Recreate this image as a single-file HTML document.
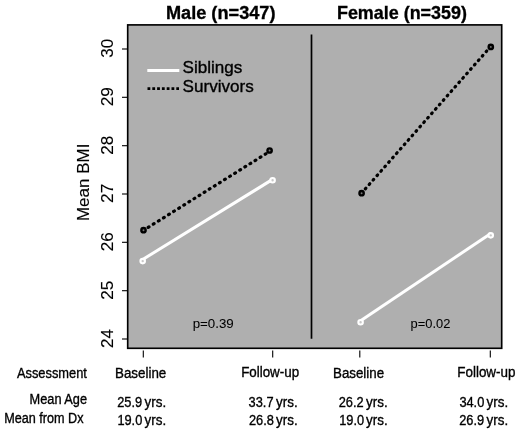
<!DOCTYPE html>
<html><head><meta charset="utf-8">
<style>
html,body{margin:0;padding:0;background:#fff;width:520px;height:431px;overflow:hidden}
svg{display:block;will-change:transform}
text{font-family:"Liberation Sans",sans-serif;fill:#000;stroke:#000;stroke-width:0.35px}
</style></head>
<body>
<svg width="520" height="431" viewBox="0 0 520 431">
<!-- plot box -->
<rect x="127.7" y="24.9" width="374" height="323.4" fill="#afafaf" stroke="#000" stroke-width="1.65"/>
<line x1="311.5" y1="34.5" x2="311.5" y2="338.8" stroke="#000" stroke-width="1.7"/>

<!-- y ticks -->
<g stroke="#000" stroke-width="1.1">
<line x1="122" y1="49" x2="127" y2="49"/>
<line x1="122" y1="97.3" x2="127" y2="97.3"/>
<line x1="122" y1="145.7" x2="127" y2="145.7"/>
<line x1="122" y1="194" x2="127" y2="194"/>
<line x1="122" y1="242.3" x2="127" y2="242.3"/>
<line x1="122" y1="290.7" x2="127" y2="290.7"/>
<line x1="122" y1="339" x2="127" y2="339"/>
</g>

<!-- x ticks -->
<g stroke="#000" stroke-width="1.1">
<line x1="143.3" y1="350.5" x2="143.3" y2="357.6"/>
<line x1="272.7" y1="350.5" x2="272.7" y2="357.6"/>
<line x1="359.8" y1="350.5" x2="359.8" y2="357.6"/>
<line x1="490.3" y1="350.5" x2="490.3" y2="357.6"/>
</g>

<!-- legend -->
<line x1="147.3" y1="70.4" x2="179.3" y2="70.4" stroke="#fff" stroke-width="3"/>
<line x1="147.5" y1="88.7" x2="179" y2="88.7" stroke="#000" stroke-width="2.8" stroke-dasharray="2.8 2"/>

<!-- data lines -->
<g stroke-width="3" fill="none">
<line x1="142.7" y1="259.5" x2="272.6" y2="179.4" stroke="#fff"/>
<line x1="360.6" y1="320.75" x2="490.8" y2="233.5" stroke="#fff"/>
<line x1="143.5" y1="230.3" x2="269.6" y2="151.5" stroke="#000" stroke-width="3.2" stroke-linecap="round" stroke-dasharray="0.9 5.1" stroke-dashoffset="0.45"/>
<line x1="361.7" y1="193.0" x2="490.7" y2="46.5" stroke="#000" stroke-width="3.2" stroke-linecap="round" stroke-dasharray="0.9 5.0" stroke-dashoffset="0.45"/>
</g>
<g>
<circle cx="142.7" cy="261.1" r="2.25" fill="#c8c8c8" stroke="#fff" stroke-width="2.1"/>
<circle cx="272.6" cy="180.3" r="2.25" fill="#c8c8c8" stroke="#fff" stroke-width="2.1"/>
<circle cx="360.6" cy="322.2" r="2.25" fill="#c8c8c8" stroke="#fff" stroke-width="2.1"/>
<circle cx="490.75" cy="235.35" r="2.25" fill="#c8c8c8" stroke="#fff" stroke-width="2.1"/>
<circle cx="143.5" cy="230.2" r="2.15" fill="#777" stroke="#000" stroke-width="2.4"/>
<circle cx="269.6" cy="150.5" r="2.15" fill="#777" stroke="#000" stroke-width="2.4"/>
<circle cx="361.6" cy="193.2" r="2.15" fill="#777" stroke="#000" stroke-width="2.4"/>
<circle cx="490.8" cy="46.9" r="2.15" fill="#777" stroke="#000" stroke-width="2.4"/>
</g>

<!-- texts -->
<text x="165.93" y="18.50" font-size="19.14" font-weight="bold" textLength="109.59" lengthAdjust="spacingAndGlyphs">Male (n=347)</text>
<text x="336.95" y="18.60" font-size="19.28" font-weight="bold" textLength="130.01" lengthAdjust="spacingAndGlyphs">Female (n=359)</text>
<text x="182.55" y="73.40" font-size="16.98" font-weight="normal" textLength="59.80" lengthAdjust="spacingAndGlyphs">Siblings</text>
<text x="182.55" y="91.50" font-size="16.98" font-weight="normal" textLength="71.19" lengthAdjust="spacingAndGlyphs">Survivors</text>
<text x="192.67" y="327.50" font-size="13.14" font-weight="normal" textLength="41.05" lengthAdjust="spacingAndGlyphs" style="stroke-width:0.05px">p=0.39</text>
<text x="410.60" y="327.50" font-size="13.14" font-weight="normal" textLength="39.80" lengthAdjust="spacingAndGlyphs" style="stroke-width:0.05px">p=0.02</text>
<text x="16.90" y="378.40" font-size="14.24" font-weight="normal" textLength="69.98" lengthAdjust="spacingAndGlyphs">Assessment</text>
<text x="29.58" y="404.30" font-size="14.24" font-weight="normal" textLength="57.48" lengthAdjust="spacingAndGlyphs">Mean Age</text>
<text x="4.19" y="422.60" font-size="14.24" font-weight="normal" textLength="79.33" lengthAdjust="spacingAndGlyphs">Mean from Dx</text>
<text x="115.03" y="378.40" font-size="14.24" font-weight="normal" textLength="51.28" lengthAdjust="spacingAndGlyphs">Baseline</text>
<text x="241.13" y="377.30" font-size="14.24" font-weight="normal" textLength="57.97" lengthAdjust="spacingAndGlyphs">Follow-up</text>
<text x="333.03" y="378.40" font-size="14.24" font-weight="normal" textLength="51.08" lengthAdjust="spacingAndGlyphs">Baseline</text>
<text x="457.22" y="377.30" font-size="14.24" font-weight="normal" textLength="58.28" lengthAdjust="spacingAndGlyphs">Follow-up</text>
<text x="117.26" y="406.90" font-size="14.36" textLength="24.93" lengthAdjust="spacingAndGlyphs">25.9</text>
<text x="144.52" y="406.90" font-size="14.36" textLength="21.60" lengthAdjust="spacingAndGlyphs">yrs.</text>
<text x="117.38" y="425.00" font-size="14.36" textLength="24.93" lengthAdjust="spacingAndGlyphs">19.0</text>
<text x="144.52" y="425.00" font-size="14.36" textLength="21.60" lengthAdjust="spacingAndGlyphs">yrs.</text>
<text x="248.59" y="406.50" font-size="14.36" textLength="24.93" lengthAdjust="spacingAndGlyphs">33.7</text>
<text x="276.12" y="406.50" font-size="14.36" textLength="21.60" lengthAdjust="spacingAndGlyphs">yrs.</text>
<text x="248.96" y="424.80" font-size="14.36" textLength="24.93" lengthAdjust="spacingAndGlyphs">26.8</text>
<text x="276.12" y="424.80" font-size="14.36" textLength="21.60" lengthAdjust="spacingAndGlyphs">yrs.</text>
<text x="338.76" y="406.50" font-size="14.36" textLength="24.93" lengthAdjust="spacingAndGlyphs">26.2</text>
<text x="366.12" y="406.50" font-size="14.36" textLength="21.60" lengthAdjust="spacingAndGlyphs">yrs.</text>
<text x="339.18" y="424.80" font-size="14.36" textLength="24.93" lengthAdjust="spacingAndGlyphs">19.0</text>
<text x="366.12" y="424.80" font-size="14.36" textLength="21.60" lengthAdjust="spacingAndGlyphs">yrs.</text>
<text x="459.39" y="406.90" font-size="14.36" textLength="24.93" lengthAdjust="spacingAndGlyphs">34.0</text>
<text x="486.52" y="406.90" font-size="14.36" textLength="21.60" lengthAdjust="spacingAndGlyphs">yrs.</text>
<text x="459.26" y="425.00" font-size="14.36" textLength="24.93" lengthAdjust="spacingAndGlyphs">26.9</text>
<text x="486.52" y="425.00" font-size="14.36" textLength="21.60" lengthAdjust="spacingAndGlyphs">yrs.</text>
<text transform="translate(89.40,221.06) rotate(-90)" font-size="16.69" textLength="77.54" lengthAdjust="spacingAndGlyphs" style="stroke-width:0.12px">Mean BMI</text>
<text transform="translate(113.30,57.78) rotate(-90)" font-size="17.29" textLength="18.90" lengthAdjust="spacingAndGlyphs" style="stroke-width:0.12px">30</text>
<text transform="translate(113.30,106.27) rotate(-90)" font-size="17.29" textLength="19.27" lengthAdjust="spacingAndGlyphs" style="stroke-width:0.12px">29</text>
<text transform="translate(113.30,154.66) rotate(-90)" font-size="17.29" textLength="19.08" lengthAdjust="spacingAndGlyphs" style="stroke-width:0.12px">28</text>
<text transform="translate(113.30,202.97) rotate(-90)" font-size="17.29" textLength="19.27" lengthAdjust="spacingAndGlyphs" style="stroke-width:0.12px">27</text>
<text transform="translate(113.30,251.26) rotate(-90)" font-size="17.29" textLength="19.08" lengthAdjust="spacingAndGlyphs" style="stroke-width:0.12px">26</text>
<text transform="translate(113.30,299.66) rotate(-90)" font-size="17.29" textLength="19.08" lengthAdjust="spacingAndGlyphs" style="stroke-width:0.12px">25</text>
<text transform="translate(113.30,347.95) rotate(-90)" font-size="17.29" textLength="18.90" lengthAdjust="spacingAndGlyphs" style="stroke-width:0.12px">24</text>
</svg>
</body></html>
